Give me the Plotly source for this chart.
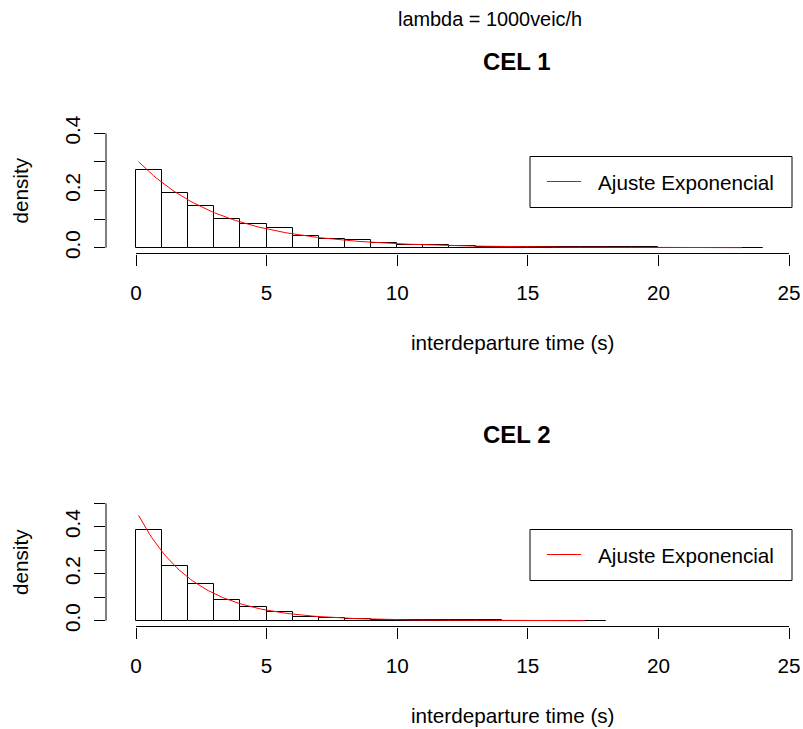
import numpy as np
import plotly.graph_objects as go

# ---------------- data ----------------
bin_left_1 = list(range(0, 24))          # histogram bins [k, k+1), CEL 1
dens_1 = [0.272, 0.190, 0.147, 0.099, 0.082, 0.068, 0.042, 0.031, 0.026, 0.018,
          0.010, 0.008, 0.005, 0.004, 0.003, 0.002, 0.002, 0.001, 0.001, 0.001,
          0.0005, 0.0005, 0.0003, 0.0003]
bin_left_2 = list(range(0, 18))          # histogram bins [k, k+1), CEL 2
dens_2 = [0.387, 0.231, 0.155, 0.087, 0.060, 0.036, 0.016, 0.011, 0.007, 0.003,
          0.002, 0.002, 0.001, 0.001, 0.0005, 0.0005, 0.0003, 0.0003]
# fitted exponential (rate parameter) and span of the fitted curve
rate_1, span_1 = 0.31, (0.1, 23.2)
rate_2, span_2 = 0.47, (0.1, 17.2)
x_ticks = [0, 5, 10, 15, 20, 25]
x_ticklabels = ["0", "5", "10", "15", "20", "25"]
y_ticks_1 = [0.0, 0.1, 0.2, 0.3, 0.4]
y_ticks_2 = [0.0, 0.1, 0.2, 0.3, 0.4, 0.5]
main_title = "lambda = 1000veic/h"
panel_titles = ["CEL 1", "CEL 2"]
legend_label = "Ajuste Exponencial"

# ---------------- geometry (pixels) ----------------
W, H = 803, 729
L = 106
PW = W - L
FONT = "Liberation Sans, Arial, sans-serif"
FS = 20.7

def px_x(p):
    return (p - L) / PW

def px_y(p):
    return (H - p) / H

ppu_x = (789 - 136) / 25.0
x_range = [-(136 - L) / ppu_x, (W - 136) / ppu_x]

panels = [
    dict(left=bin_left_1, dens=dens_1, rate=rate_1, span=span_1, yt=y_ticks_1,
         bottom=253.5, zero=247.7, top_tick=133.3, top_val=0.4, top=110,
         title=panel_titles[0]),
    dict(left=bin_left_2, dens=dens_2, rate=rate_2, span=span_2, yt=y_ticks_2,
         bottom=626.5, zero=620.7, top_tick=503.3, top_val=0.5, top=483,
         title=panel_titles[1]),
]

fig = go.Figure()
shapes = []
annotations = []

for i, p in enumerate(panels):
    xa = "xaxis" if i == 0 else "xaxis2"
    ya = "yaxis" if i == 0 else "yaxis2"
    xr = "x" if i == 0 else "x2"
    yr = "y" if i == 0 else "y2"
    ppu_y = (p["zero"] - p["top_tick"]) / p["top_val"]
    y_range = [-(p["bottom"] - p["zero"]) / ppu_y, (p["zero"] - p["top"]) / ppu_y]

    mids = [b + 0.5 for b in p["left"]]
    fig.add_trace(go.Bar(x=mids, y=p["dens"], width=1.0, xaxis=xr, yaxis=yr,
                         marker=dict(color="white", line=dict(color="black", width=1)),
                         showlegend=False, hoverinfo="x+y"))
    xs = np.linspace(p["span"][0], p["span"][1], 200)
    ys = p["rate"] * np.exp(-p["rate"] * xs)
    fig.add_trace(go.Scatter(x=xs, y=ys, mode="lines", xaxis=xr, yaxis=yr,
                             line=dict(color="red", width=1), name=legend_label,
                             showlegend=False))

    dom = [px_y(p["bottom"]), px_y(p["top"])]
    fig.update_layout(**{
        xa: dict(domain=[0, 1], range=x_range, anchor=yr, showgrid=False,
                 zeroline=False, showline=False, ticks="outside", ticklen=11,
                 tickwidth=1, tickcolor="black", tickvals=x_ticks, automargin=False,
                 ticktext=x_ticklabels, tickfont=dict(family=FONT, size=FS, color="black"),
                 ticklabelstandoff=10, fixedrange=True),
        ya: dict(domain=dom, range=y_range, anchor=xr, showgrid=False,
                 zeroline=False, showline=False, ticks="outside", ticklen=11,
                 tickwidth=1, tickcolor="black", tickvals=p["yt"], automargin=False,
                 ticktext=[("%.1f" % v) if k % 2 == 0 and k < 5 else ""
                           for k, v in enumerate(p["yt"])],
                 tickangle=-90, tickfont=dict(family=FONT, size=FS, color="black"),
                 ticklabelstandoff=6, fixedrange=True),
    })
    # axis lines spanning first to last tick (R style)
    shapes.append(dict(type="line", xref=xr, yref="paper", x0=x_ticks[0], x1=x_ticks[-1],
                       y0=dom[0], y1=dom[0], line=dict(color="black", width=1)))
    shapes.append(dict(type="line", xref="paper", yref=yr, x0=0, x1=0,
                       y0=p["yt"][0], y1=p["yt"][-1], line=dict(color="black", width=1)))

    off = p["bottom"] - 253.5
    # legend box
    shapes.append(dict(type="rect", xref="paper", yref="paper",
                       x0=px_x(530), x1=px_x(792), y0=px_y(156.5 + off), y1=px_y(207.5 + off),
                       line=dict(color="black", width=1), fillcolor="white"))
    shapes.append(dict(type="line", xref="paper", yref="paper",
                       x0=px_x(547), x1=px_x(581), y0=px_y(181.5 + off), y1=px_y(181.5 + off),
                       line=dict(color="red", width=1)))
    annotations.append(dict(text=legend_label, xref="paper", yref="paper",
                            x=px_x(596), y=px_y(182 + off), xanchor="left", yanchor="middle",
                            showarrow=False, font=dict(family=FONT, size=FS, color="black")))
    # panel title
    annotations.append(dict(text="<b>%s</b>" % p["title"], xref="paper", yref="paper",
                            x=px_x(517), y=px_y(61 + off), xanchor="center", yanchor="middle",
                            showarrow=False, font=dict(family=FONT, size=24, color="black")))
    # axis titles
    annotations.append(dict(text="interdeparture time (s)", xref="paper", yref="paper",
                            x=px_x(512.5), y=px_y(342 + off), xanchor="center", yanchor="middle",
                            showarrow=False, font=dict(family=FONT, size=FS, color="black")))
    annotations.append(dict(text="density", xref="paper", yref="paper", textangle=-90,
                            x=px_x(20), y=px_y((p["zero"] + p["top_tick"]) / 2), xanchor="center",
                            yanchor="middle", showarrow=False,
                            font=dict(family=FONT, size=FS, color="black")))

annotations.append(dict(text=main_title, xref="paper", yref="paper",
                        x=px_x(490), y=px_y(19), xanchor="center", yanchor="middle",
                        showarrow=False, font=dict(family=FONT, size=19.9, color="black")))

fig.update_layout(template="none", width=W, height=H, margin=dict(l=L, r=0, t=0, b=0, pad=0),
                  paper_bgcolor="white", plot_bgcolor="white", bargap=0,
                  shapes=shapes, annotations=annotations, showlegend=False)

fig.write_html("out.html")
